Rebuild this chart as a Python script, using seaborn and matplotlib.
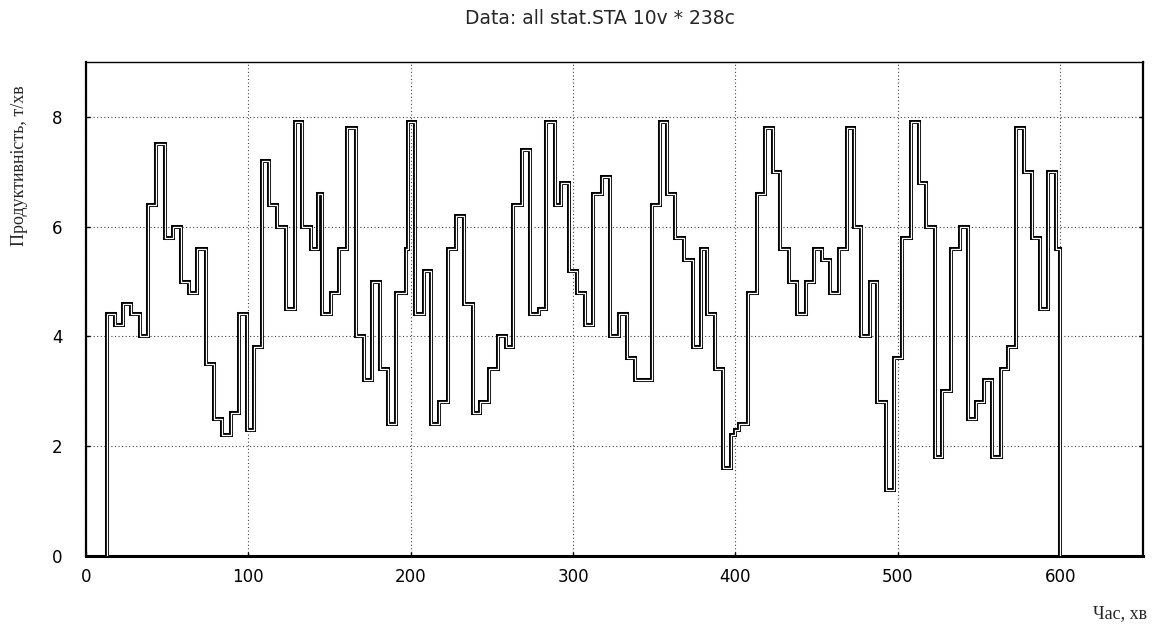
import matplotlib
matplotlib.use("Agg")
import matplotlib.pyplot as plt
import seaborn as sns
import pandas as pd

# ---- data ----
step_start = [13, 18, 23, 28, 33, 38, 43, 48.5, 53.5, 58.5, 63.5, 68.5, 74, 79, 84, 89, 94, 99,
              103.5, 108.5, 112.5, 117.5, 123, 128.5, 133, 138.5, 143, 145.5, 151, 156, 161, 166,
              171, 176, 181, 186, 191, 197, 198.3, 202.5, 208, 212.5, 217.5, 223, 228, 233, 238.5,
              242.5, 248, 253.5, 258.5, 263, 268.5, 273.5, 279, 283.5, 289, 292.5, 297.5, 302.5,
              307.5, 312.5, 317.5, 322.5, 328.5, 333, 338, 348.5, 353.3, 358, 363, 368, 374, 378.5,
              382.5, 387.5, 392.5, 397.5, 400, 402.3, 408, 413, 418, 423, 427.5, 433, 438, 443.5,
              448.5, 453.5, 458.5, 464, 468.5, 472.7, 477.5, 483, 487, 492.5, 497.5, 502.5, 508,
              513, 517.5, 523, 527.5, 533, 538, 543, 548, 553, 558, 563.5, 568, 573, 577.5, 582.5,
              587.5, 592.5, 597.5]
step_value = [4.4, 4.2, 4.6, 4.4, 4.0, 6.4, 7.5, 5.8, 6.0, 5.0, 4.8, 5.6, 3.5, 2.5, 2.2, 2.6, 4.4, 2.3,
              3.8, 7.2, 6.4, 6.0, 4.5, 7.9, 6.0, 5.6, 6.6, 4.4, 4.8, 5.6, 7.8, 4.0,
              3.2, 5.0, 3.4, 2.4, 4.8, 5.6, 7.9, 4.4, 5.2, 2.4, 2.8, 5.6, 6.2, 4.6, 2.6,
              2.8, 3.4, 4.0, 3.8, 6.4, 7.4, 4.4, 4.5, 7.9, 6.4, 6.8, 5.2, 4.8,
              4.2, 6.6, 6.9, 4.0, 4.4, 3.6, 3.2, 6.4, 7.9, 6.6, 5.8, 5.4, 3.8, 5.6,
              4.4, 3.4, 1.6, 2.2, 2.3, 2.4, 4.8, 6.6, 7.8, 7.0, 5.6, 5.0, 4.4, 5.0,
              5.6, 5.4, 4.8, 5.6, 7.8, 6.0, 4.0, 5.0, 2.8, 1.2, 3.6, 5.8, 7.9,
              6.8, 6.0, 1.8, 3.0, 5.6, 6.0, 2.5, 2.8, 3.2, 1.8, 3.4, 3.8, 7.8, 7.0, 5.8,
              4.5, 7.0, 5.6]
end_time = 600
x_ticks = [0, 100, 200, 300, 400, 500, 600]
y_ticks = [0, 2, 4, 6, 8]
title_text = "Data: all stat.STA 10v * 238c"
y_label = "Продуктивність, т/хв"
x_label = "Час, хв"

sns.set_style("white")
plt.rcParams['font.family'] = ['DejaVu Sans']

W, H = 1153, 626
fig = plt.figure(figsize=(W / 100, H / 100), dpi=100)
ax = fig.add_axes([86 / W, 1 - 556 / H, (1143 - 86) / W, (556 - 62) / H])

t = [step_start[0]] + step_start + [end_time]
v = [0] + step_value + [0]
df = pd.DataFrame({"t": t, "v": v})

common = dict(data=df, x="t", y="v", ax=ax, drawstyle="steps-post", estimator=None,
              sort=False, legend=False)
sns.lineplot(**common, color="black", lw=2.9, zorder=3,
             solid_joinstyle="miter", solid_capstyle="projecting")
sns.lineplot(**common, color="white", lw=0.9, zorder=4,
             solid_joinstyle="miter", solid_capstyle="butt")

ax.set_xlim(2, 651)
ax.set_ylim(0, 9)
ax.set_xticks(x_ticks)
ax.set_yticks(y_ticks)
ax.set_xticklabels([str(x) for x in x_ticks])
ax.set_yticklabels([str(y) for y in y_ticks])
ax.set_xlabel("")
ax.set_ylabel("")

ax.grid(True, color="#444444", linestyle=(0, (1, 2.2)), linewidth=0.8, zorder=1)
ax.set_axisbelow(True)

ax.tick_params(axis="both", direction="in", length=3, width=1, colors="black",
               labelsize=12, left=True, bottom=True, right=True)
ax.tick_params(axis="x", pad=9)
ax.tick_params(axis="y", pad=17)

for side, lw in [("left", 1.6), ("bottom", 2.2), ("top", 1.0), ("right", 1.6)]:
    ax.spines[side].set_visible(True)
    ax.spines[side].set_color("black")
    ax.spines[side].set_linewidth(lw)

fig.text(600 / W, 1 - 18 / H, title_text, ha="center", va="center", fontsize=13.5,
         family=["Liberation Sans Narrow", "DejaVu Sans"])
fig.text(20 / W, 1 - 166 / H, y_label, ha="center", va="center", rotation=90,
         fontsize=13, family=["Liberation Serif", "DejaVu Serif"])
fig.text(1147 / W, 1 - 614 / H, x_label, ha="right", va="center",
         fontsize=13, family=["Liberation Serif", "DejaVu Serif"])

fig.savefig("out.png", dpi=100)
